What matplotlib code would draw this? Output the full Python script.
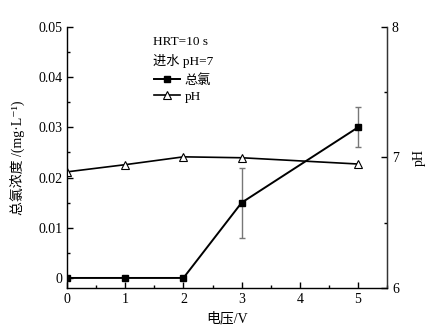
import numpy as np
import matplotlib
matplotlib.use("Agg")
import matplotlib.pyplot as plt
from matplotlib.ticker import MultipleLocator
from matplotlib.lines import Line2D

plt.rcParams['font.family'] = ['Liberation Serif', 'Noto Sans CJK SC', 'DejaVu Serif']

voltage = [0, 1, 2, 3, 5]
chlorine = [0.0, 0.0, 0.0, 0.015, 0.030]
chlorine_err = [0.0, 0.0, 0.0, 0.007, 0.004]
ph_voltage = [0, 1, 2, 3, 5]
ph_values = [6.89, 6.945, 7.005, 6.998, 6.95]

fig = plt.figure(figsize=(4.47, 3.26), dpi=100)
ax = fig.add_axes([0.150, 0.1166, 0.716, 0.8006])

ax.errorbar(voltage, chlorine, yerr=[e if e > 0 else np.nan for e in chlorine_err],
            fmt='none', ecolor='#777777', elinewidth=1.0, capsize=2.2, capthick=1.0)
ax.plot(voltage, chlorine, color='black', lw=1.4, marker='s', ms=4.5,
        mfc='black', mec='black')

ax.set_xlim(0, 5.5)
ax.set_ylim(-0.002, 0.05)
ax.xaxis.set_major_locator(MultipleLocator(1))
ax.xaxis.set_minor_locator(MultipleLocator(0.5))
ax.yaxis.set_minor_locator(MultipleLocator(0.005))
ax.set_yticks([0, 0.01, 0.02, 0.03, 0.04, 0.05])
ax.set_yticklabels(['0', '0.01', '0.02', '0.03', '0.04', '0.05'])
ax.tick_params(which='both', direction='in', labelsize=10, width=1.0,
               top=False, right=False)
ax.tick_params(which='major', length=4)
ax.tick_params(which='minor', length=2.5)
ax.spines['top'].set_visible(False)
for s in ['left', 'bottom', 'right']:
    ax.spines[s].set_linewidth(1.0)
    ax.spines[s].set_color('#333333')

ax.set_xlabel('电压/V', fontsize=10, labelpad=4)
ax.set_ylabel('总氯浓度 /(mg·L⁻¹)', fontsize=10, labelpad=9)

ax2 = ax.twinx()
ax2.plot(ph_voltage, ph_values, color='black', lw=1.2, marker='^', ms=5.5,
         mfc='white', mec='black', mew=0.8)
ax2.set_ylim(6, 8)
ax2.yaxis.set_major_locator(MultipleLocator(1))
ax2.yaxis.set_minor_locator(MultipleLocator(0.5))
ax2.tick_params(which='both', direction='in', labelsize=10, width=1.0)
ax2.tick_params(which='major', length=4)
ax2.tick_params(which='minor', length=2.5)
ax2.spines['top'].set_visible(False)
ax2.spines['right'].set_color('#333333')
ax2.set_ylabel('pH', fontsize=10, labelpad=10)

ax.text(0.27, 0.965, 'HRT=10 s', transform=ax.transAxes, fontsize=9.5, va='top')
ax.text(0.27, 0.895, '进水 pH=7', transform=ax.transAxes, fontsize=9.5, va='top')

handles = [Line2D([], [], color='black', lw=1.4, marker='s', ms=4.5),
           Line2D([], [], color='black', lw=1.2, marker='^', ms=5.5,
                  mfc='white', mew=0.8)]
ax.legend(handles, ['总氯', 'pH'], loc='upper left', bbox_to_anchor=(0.255, 0.84),
          frameon=False, fontsize=9.5, handlelength=2.0, handletextpad=0.3,
          borderaxespad=0, labelspacing=0.3)

fig.savefig('out.png', dpi=100)
